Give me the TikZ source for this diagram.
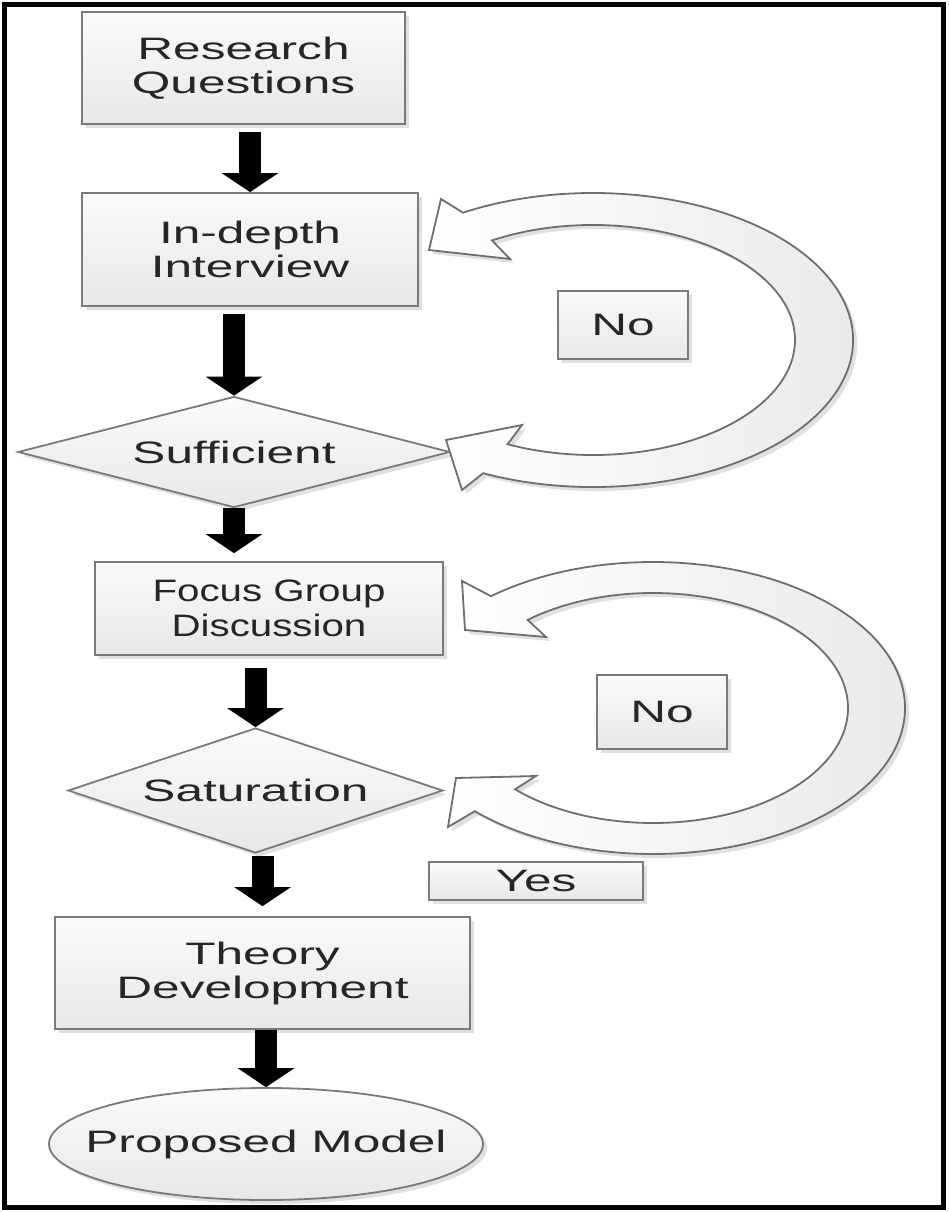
\documentclass[tikz,border=0pt]{standalone}
\usepackage{fontspec}
\setmainfont{Liberation Sans}[FakeStretch=1.6]
\newfontfamily\fgdfont{Liberation Sans}[FakeStretch=1.3]
\usepackage{tikz}
\usetikzlibrary{positioning,arrows.meta,calc,shapes.geometric,shadows}
\definecolor{boxline}{HTML}{7A7A7A}
\definecolor{boxtop}{HTML}{FAFAFA}
\definecolor{boxbottom}{HTML}{E8E8E8}
\definecolor{loopline}{HTML}{6E6E6E}
\definecolor{textink}{HTML}{262626}

\begin{document}
\begin{tikzpicture}[
  x=1pt, y=-1pt,
  font=\fontsize{31}{34}\selectfont,
  >=Latex,
  softshadow/.style={drop shadow={shadow xshift=4pt, shadow yshift=-4pt, fill=black, opacity=0.12}},
  procbox/.style={
    draw=boxline, line width=1.8pt, top color=boxtop, bottom color=boxbottom,
    text=textink, align=center, inner sep=2pt, softshadow
  },
  decision/.style={procbox, diamond, aspect=3.9, inner sep=0pt},
  terminal/.style={procbox, ellipse, inner sep=0pt},
  answer/.style={procbox},
  flowdown/.style={line width=22pt, black, -{Triangle[length=19pt, width=56pt]}},
  loopband/.style={draw=loopline, line width=1.8pt, left color=white, right color=boxbottom, line join=miter, softshadow},
]
\useasboundingbox (0,0) rectangle (948,1212);

% ---------------- main chain
\node[procbox, minimum width=323pt, minimum height=112pt] (rq) at (243.5,68) {Research\\Questions};
\node[procbox, minimum width=336pt, minimum height=113pt] (idi) at (250,249.5) {In-depth\\Interview};
\node[decision, minimum width=432pt, minimum height=111pt] (suf) at (234,452) {Sufficient};
\node[procbox, minimum width=348pt, minimum height=93pt, font={\fgdfont\fontsize{31}{35}\selectfont}] (fgd) at (269,608.5) {Focus Group\\Discussion};
\node[decision, minimum width=375pt, minimum height=125pt] (sat) at (255.5,790.5) {Saturation};
\node[procbox, minimum width=415pt, minimum height=112pt] (thd) at (262.5,973) {Theory\\Development};
\node[terminal, minimum width=434pt, minimum height=112pt] (pm) at (266,1144) {\makebox[0pt]{Proposed Model}};

% ---------------- block arrows between steps
\draw[flowdown] ($(idi.north |- rq.south)+(0,7)$) -- (idi.north);
\draw[flowdown] ($(suf.north |- idi.south)+(0,7)$) -- (suf.north);
\draw[flowdown] (suf.south) -- ($(suf.south |- fgd.north)+(0,-8)$);
\draw[flowdown] ($(sat.north |- fgd.south)+(0,12)$) -- (sat.north);
\draw[flowdown] ($(thd.north |- sat.south)+(0,2)$) -- ($(thd.north)+(0,-10)$);
\draw[flowdown] (pm.north |- thd.south) -- (pm.north);

% ---------------- feedback loops
\coordinate (c1) at (593,340);
\path[loopband] ($(c1)+(-120:260 and 147)$) -- (441,199) -- (429,250) -- (510,259)
  -- ($(c1)+(-120:202 and 115)$) arc[start angle=-120, end angle=115, x radius=202, y radius=115]
  -- (522,425) -- (446,440) -- (462,490)
  -- ($(c1)+(115:260 and 147)$) arc[start angle=115, end angle=-120, x radius=260, y radius=147] -- cycle;

\coordinate (c2) at (653,708);
\path[loopband] ($(c2)+(-130:252 and 146)$) -- (462,581) -- (465,630) -- (546,637)
  -- ($(c2)+(-130:195 and 115)$) arc[start angle=-130, end angle=135, x radius=195, y radius=115]
  -- (536,776) -- (456,778) -- (448,827)
  -- ($(c2)+(135:252 and 146)$) arc[start angle=135, end angle=-130, x radius=252, y radius=146] -- cycle;

% ---------------- answers
\node[answer, minimum width=130pt, minimum height=68pt] (no1) at (623,325) {No};
\node[answer, minimum width=130pt, minimum height=74pt] (no2) at (662,712) {No};
\node[answer, minimum width=214pt, minimum height=38pt] (yes) at (536,881) {Yes};

% ---------------- frame
\draw[line width=5pt] (4.5,4.5) rectangle (943.5,1207.5);

\end{tikzpicture}
\end{document}
